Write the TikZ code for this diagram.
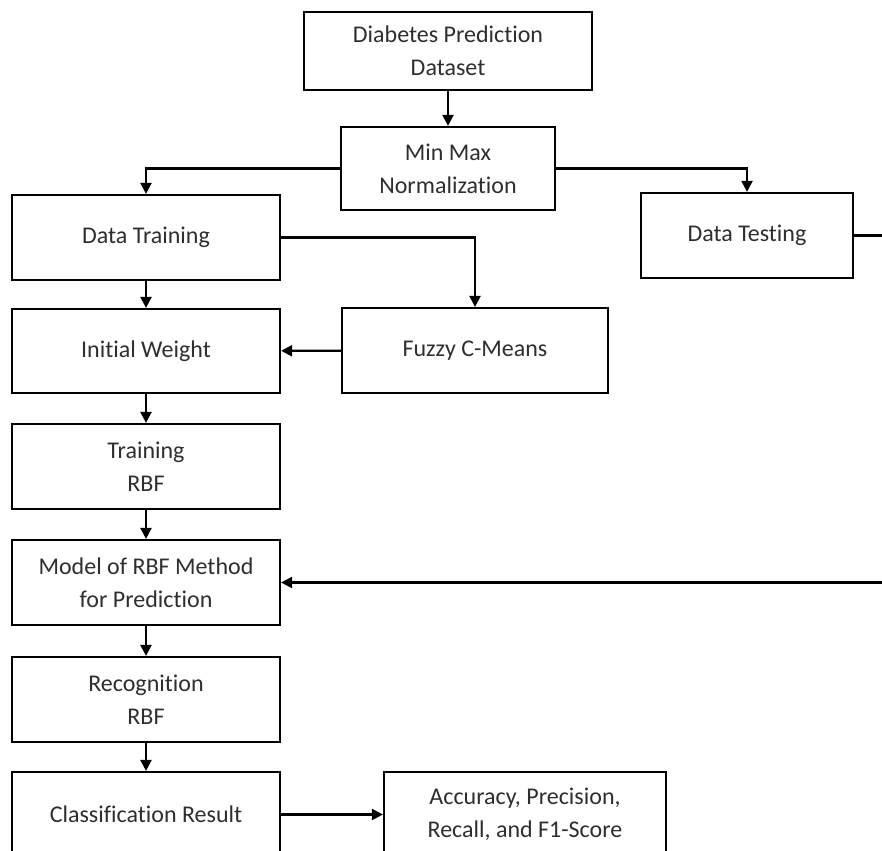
\documentclass[tikz,border=0pt]{standalone}
\usepackage{fontspec}
\setmainfont{Carlito}[Ligatures=NoCommon]
\usetikzlibrary{arrows.meta}
\begin{document}
\begin{tikzpicture}[x=1pt,y=-1pt,
  box/.style={draw=black, line width=2.2pt, rectangle, minimum width=268pt, minimum height=85pt, inner sep=0pt, align=center, font=\fontsize{24}{33}\selectfont, text=black!82},
  conn/.style={line width=2.2pt, draw=black, -{Triangle[length=11pt,width=11pt]}}]
\useasboundingbox (0,0) rectangle (882,850);
\clip (0,0) rectangle (882,850);
\node[box, minimum width=288pt, minimum height=78pt] (ds) at (448,51) {Diabetes Prediction\\Dataset};
\node[box, minimum width=214pt, minimum height=83pt] (mm) at (448,168.5) {Min Max\\Normalization};
\node[box] (tr) at (146,237.5) {Data Training};
\node[box, minimum width=212pt] (te) at (747,235.5) {Data Testing};
\node[box, minimum width=266pt] (fz) at (475,350.5) {Fuzzy C-Means};
\node[box, minimum height=84pt] (iw) at (146,351) {Initial Weight};
\node[box] (trbf) at (146,466.5) {Training\\RBF};
\node[box] (model) at (146,582.5) {Model of RBF Method\\for Prediction};
\node[box] (rec) at (146,699.5) {Recognition\\RBF};
\node[box] (cls) at (146,814.5) {Classification Result};
\node[box, minimum width=282pt] (acc) at (525,814.5) {Accuracy, Precision,\\Recall, and F1-Score};
\coordinate (r1) at (900,235.5);
\coordinate (r2) at (900,582.5);
\draw[conn] (ds) -- (mm);
\draw[conn] (mm.west) -| (tr.north);
\draw[conn] (mm.east) -| (te.north);
\draw[conn] (tr.east) -| (fz.north);
\draw[conn] (fz) -- (iw);
\draw[conn] (tr) -- (iw);
\draw[conn] (iw) -- (trbf);
\draw[conn] (trbf) -- (model);
\draw[conn] (model) -- (rec);
\draw[conn] (rec) -- (cls);
\draw[conn] (cls) -- (acc);
\draw[conn] (te.east) -- (r1) -- (r2) -- (model.east);
\end{tikzpicture}
\end{document}
